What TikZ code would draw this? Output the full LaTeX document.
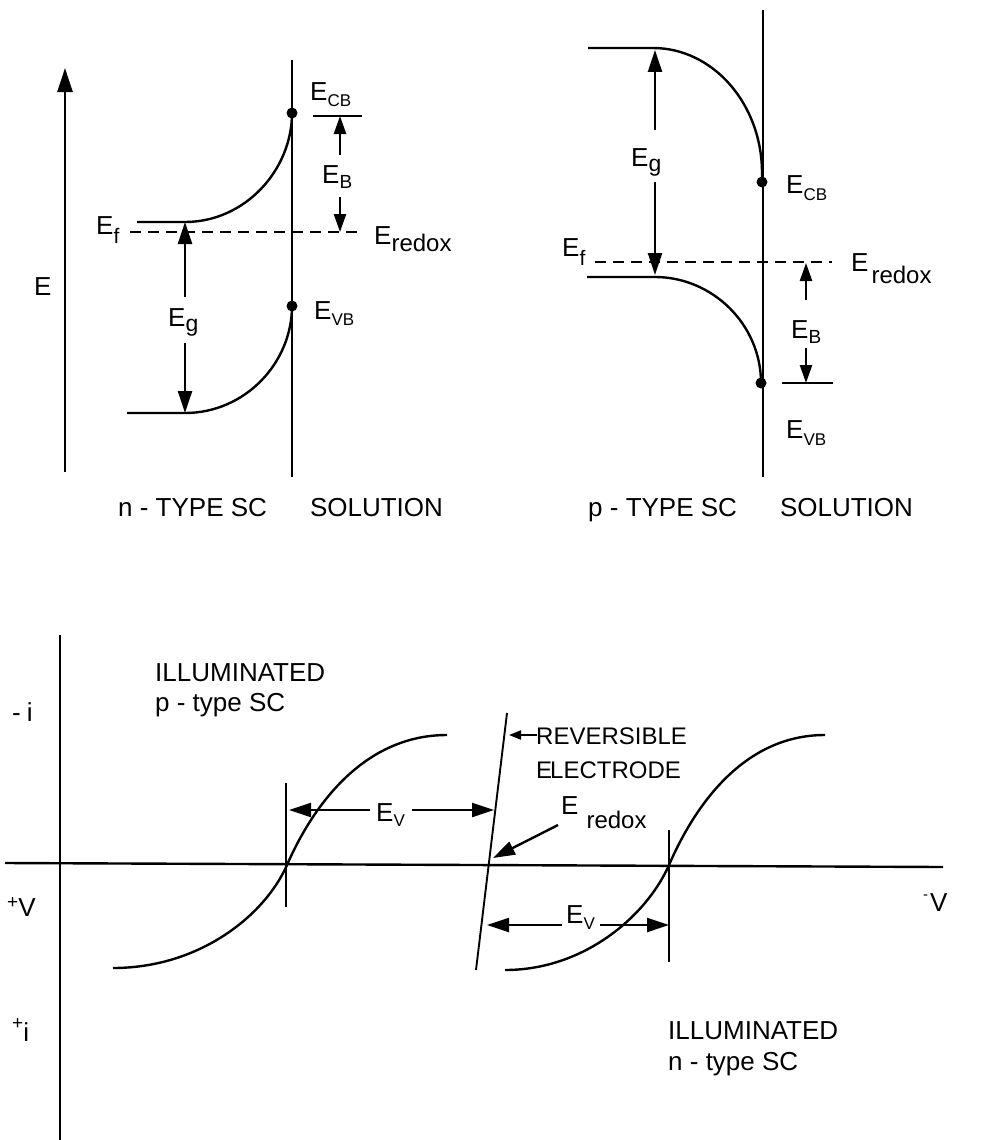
\documentclass[tikz,border=0pt]{standalone}
\usepackage{fontspec}
\setmainfont{Liberation Sans}
\usetikzlibrary{arrows.meta}
\newcommand{\ES}[3]{E\raisebox{-#3}{\fontsize{#1}{#1}\selectfont #2}}
\begin{document}
\begin{tikzpicture}[x=1pt,y=-1pt,
  ln/.style={line width=2.4pt},
  lnthin/.style={line width=1.9pt},
  dsh/.style={line width=2.1pt, dash pattern=on 11pt off 7pt},
  tri/.style={-{Triangle[length=22pt,width=14pt]}},
  trismall/.style={-{Triangle[length=18pt,width=12pt]}},
  tritiny/.style={-{Triangle[length=12pt,width=9pt]}},
  lbl/.style={inner sep=0pt, anchor=base west, font=\fontsize{26}{30}\selectfont},
  dot/.style={circle, fill, inner sep=0pt, minimum size=11pt},
]
\useasboundingbox (0,0) rectangle (986,1140);

% ---------------- top left: n-type ----------------
\coordinate (eaxB) at (65,472);
\coordinate (eaxT) at (65,68);
\draw[ln, -{Triangle[length=24pt,width=15pt]}] (eaxB) -- (eaxT);
\node[lbl] (Elab) at (34,295) {E};

\coordinate (ifT1) at (292,60);
\coordinate (ifB1) at (292,477);
\draw[ln] (ifT1) -- (ifB1);
\node[dot] (cb1) at (292,113) {};
\node[dot] (vb1) at (292,306) {};
\coordinate (cbL1) at (137,222);
\coordinate (cbK1) at (185,222);
\coordinate (vbL1) at (127,413);
\coordinate (vbK1) at (185,413);
\draw[ln] (cbL1) -- (cbK1) .. controls (245,222) and (292,170) .. (cb1.center);
\draw[ln] (vbL1) -- (vbK1) .. controls (245,413) and (292,363) .. (vb1.center);
\coordinate (dL1) at (130,232);
\coordinate (dR1) at (360,232);
\draw[dsh] (dL1) -- (dR1);

\node[lbl] (Eg1) at (168,326) {\ES{23}{g}{5pt}};
\coordinate (eg1a) at (185,297);
\coordinate (eg1b) at (185,343);
\draw[ln, tri] (eg1a) -- (cbK1);
\draw[ln, tri] (eg1b) -- (vbK1);

\coordinate (barL1) at (313,116);
\coordinate (barR1) at (362,116);
\draw[ln] (barL1) -- (barR1);
\coordinate (ebT1) at (340,116);
\coordinate (ebB1) at (340,232);
\draw[ln, trismall] (340,155) -- (ebT1);
\draw[ln, trismall] (340,197) -- (ebB1);
\node[lbl] (EB1) at (322,183) {\ES{19}{B}{5pt}};

\node[lbl] (ECB1) at (310,100) {\ES{17}{CB}{6pt}};
\node[lbl] (EVB1) at (314,319) {\ES{17}{VB}{6pt}};
\node[lbl] (Ef1) at (96,234) {\ES{21}{f}{9pt}};
\node[lbl] (Er1) at (374,244) {\ES{24}{redox}{7pt}};
\node[lbl] (nt) at (118,516) {n - TYPE SC\hspace{43pt}SOLUTION};

% ---------------- top right: p-type ----------------
\coordinate (ifT2) at (763,10);
\coordinate (ifB2) at (763,477);
\draw[ln] (ifT2) -- (ifB2);
\node[dot] (cb2) at (762,182) {};
\node[dot] (vb2) at (761,383) {};
\coordinate (cbL2) at (588,48);
\coordinate (cbK2) at (653,48);
\coordinate (vbL2) at (587,277);
\coordinate (vbK2) at (655,277);
\draw[ln] (cbL2) -- (cbK2) .. controls (713,48) and (762,104) .. (762,173) -- (cb2.center);
\draw[ln] (vbL2) -- (vbK2) .. controls (712,277) and (761,324) .. (vb2.center);
\coordinate (dL2) at (595,262);
\coordinate (dR2) at (832,262);
\draw[dsh] (dL2) -- (dR2);

\node[lbl] (Eg2) at (631,166) {\ES{23}{g}{5pt}};
\draw[ln, tri] (655,130) -- (655,50);
\draw[ln, tri] (655,182) -- (655,275);

\coordinate (barL2) at (782,383);
\coordinate (barR2) at (833,383);
\draw[ln] (barL2) -- (barR2);
\draw[ln, trismall] (806,300) -- (806,263);
\draw[ln, trismall] (806,348) -- (806,383);
\node[lbl] (EB2) at (791,338) {\ES{19}{B}{5pt}};

\node[lbl] (ECB2) at (786,193) {\ES{17}{CB}{7pt}};
\node[lbl] (EVB2) at (786,438) {\ES{17}{VB}{7pt}};
\node[lbl] (Ef2) at (562,256) {\ES{21}{f}{9pt}};
\node[lbl] (Er2) at (851,271) {E\hspace{3pt}\raisebox{-12pt}{\fontsize{24}{24}\selectfont redox}};
\node[lbl] (pt) at (588,516) {p - TYPE SC\hspace{43pt}SOLUTION};

% ---------------- bottom: i-V curves ----------------
\coordinate (iT) at (60,635);
\coordinate (iB) at (60,1140);
\draw[ln] (iT) -- (iB);
\coordinate (vL) at (5,863);
\coordinate (vR) at (943,867);
\draw[ln] (vL) -- (vR);

\node[lbl] (mi) at (12,721) {-\hspace{6pt}i};
\node[lbl] (pv) at (7,916) {\raisebox{8pt}{\fontsize{19}{19}\selectfont +}V};
\node[lbl] (pi) at (12,1038) {\raisebox{9pt}{\fontsize{19}{19}\selectfont +}\raisebox{-3pt}{i}};
\node[lbl] (mv) at (923,911) {\raisebox{12pt}{\fontsize{15}{15}\selectfont -}\hspace{2pt}V};

% p-type curve
\coordinate (pc) at (287,865);
\draw[ln] (113,968) .. controls (200,968) and (265,915) .. (pc)
          .. controls (310,812) and (360,735) .. (447,735);
\coordinate (ptT) at (286,783);
\coordinate (ptB) at (286,907);
\draw[lnthin] (ptT) -- (ptB);
\node[lbl] (Ev1) at (376,821) {\ES{17}{V}{5pt}};
\draw[ln, tri] (370,810) -- (289,810);
\draw[ln, tri] (412,810) -- (494,810);

% reversible electrode
\coordinate (reT) at (507,713);
\coordinate (reB) at (476,970);
\draw[lnthin] (reT) -- (reB);
\node[lbl] (rev) at (536,744) {\fontsize{24}{28}\selectfont REVERSIBLE};
\node[lbl] (ele) at (536,778) {\fontsize{24}{28}\selectfont E\kern-2ptLECTRODE};
\draw[lnthin, tritiny] (537,735) -- (509,735);
\node[lbl] (Er3) at (561,814) {E\hspace{8pt}\raisebox{-14pt}{\fontsize{24}{24}\selectfont redox}};
\draw[ln, tri] (558,825) -- (493,858);

% n-type curve
\coordinate (nc) at (669,865);
\draw[ln] (505,970) .. controls (585,970) and (647,915) .. (nc)
          .. controls (692,812) and (740,735) .. (825,735);
\coordinate (ntT) at (669,830);
\coordinate (ntB) at (669,962);
\draw[lnthin] (ntT) -- (ntB);
\node[lbl] (Ev2) at (566,923) {\ES{17}{V}{6pt}};
\draw[ln, tri] (562,925) -- (487,925);
\draw[ln, tri] (600,925) -- (669,925);

\node[lbl] (il1) at (155,681) {ILLUMINATED};
\node[lbl] (il1b) at (155,711) {p - type SC};
\node[lbl] (il2) at (668,1039) {ILLUMINATED};
\node[lbl] (il2b) at (668,1070) {n - type SC};
\end{tikzpicture}
\end{document}
